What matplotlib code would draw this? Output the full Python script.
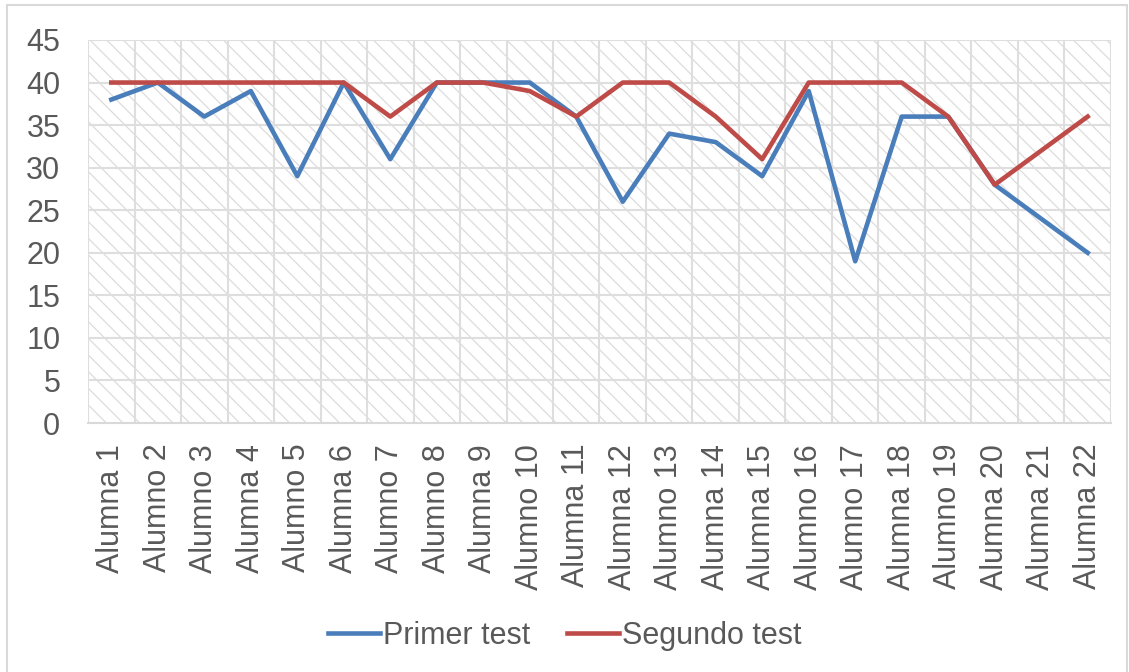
import matplotlib.pyplot as plt
from matplotlib.patches import Rectangle

plt.rcParams['font.family'] = ['Liberation Sans', 'DejaVu Sans']
plt.rcParams['hatch.linewidth'] = 0.9

alumnos = ['Alumna 1', 'Alumno 2', 'Alumno 3', 'Alumna 4', 'Alumno 5', 'Alumna 6',
           'Alumno 7', 'Alumno 8', 'Alumna 9', 'Alumno 10', 'Alumna 11', 'Alumna 12',
           'Alumno 13', 'Alumna 14', 'Alumna 15', 'Alumno 16', 'Alumno 17', 'Alumna 18',
           'Alumno 19', 'Alumna 20', 'Alumna 21', 'Alumna 22']
primer = [38, 40, 36, 39, 29, 40, 31, 40, 40, 40, 36, 26, 34, 33, 29, 39, 19, 36, 36, 28, 24, 20]
segundo = [40, 40, 40, 40, 40, 40, 36, 40, 40, 39, 36, 40, 40, 36, 31, 40, 40, 40, 36, 28, 32, 36]

txt = '#595959'
grid = '#dedede'

fig = plt.figure(figsize=(11.29, 6.72), dpi=100)
ax = fig.add_axes([0.078, 0.3705, 0.906, 0.57])

n = len(alumnos)
ax.set_xlim(-0.5, n - 0.5)
ax.set_ylim(0, 45)

# hatched plot area
ax.add_patch(Rectangle((-0.5, 0), n, 45, facecolor='white', edgecolor='#dcdcdc',
                       hatch='\\\\', linewidth=0, zorder=0))

for y in range(5, 46, 5):
    ax.axhline(y, color=grid, linewidth=1.5, zorder=1)
for k in range(n + 1):
    ax.axvline(k - 0.5, color=grid, linewidth=1.5, zorder=1)

x = list(range(n))
ax.plot(x, primer, color='#4a7ebb', linewidth=3.3, label='Primer test', zorder=3)
ax.plot(x, segundo, color='#be4b48', linewidth=3.3, label='Segundo test', zorder=3)

for s in ['top', 'right', 'left']:
    ax.spines[s].set_visible(False)
ax.spines['bottom'].set_color('#d9d9d9')
ax.spines['bottom'].set_linewidth(1.5)

ax.set_yticks(range(0, 46, 5))
ax.set_xticks(x)
ax.set_xticklabels(alumnos, rotation=90)
ax.tick_params(axis='y', length=0, pad=20, labelsize=22, labelcolor=txt)
ax.tick_params(axis='x', length=0, pad=15, labelsize=22, labelcolor=txt)

fig.legend(loc='center', bbox_to_anchor=(0.5, 0.054), ncol=2, frameon=False,
           fontsize=22, labelcolor=txt, handlelength=1.7, handletextpad=0.1,
           columnspacing=1.2)

fig.add_artist(Rectangle((0.006, -0.01), 0.992, 1.002, transform=fig.transFigure,
                         fill=False, edgecolor='#d9d9d9', linewidth=1.5))

fig.savefig('out.png', dpi=100)
